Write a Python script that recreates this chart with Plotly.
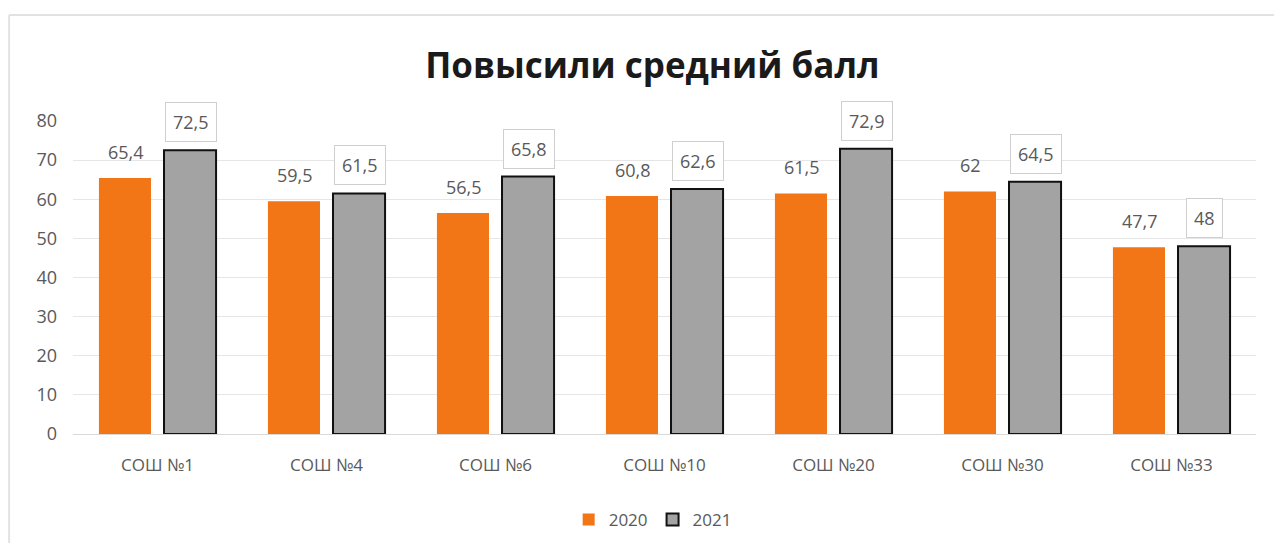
import plotly.graph_objects as go

categories = ["СОШ №1", "СОШ №4", "СОШ №6", "СОШ №10", "СОШ №20", "СОШ №30", "СОШ №33"]
values_2020 = [65.4, 59.5, 56.5, 60.8, 61.5, 62, 47.7]
values_2021 = [72.5, 61.5, 65.8, 62.6, 72.9, 64.5, 48]
series_names = ["2020", "2021"]
y_ticks = [0, 10, 20, 30, 40, 50, 60, 70, 80]


def fmt(v):
    return ("%g" % v).replace(".", ",")


FONT = "Open Sans"
TXT = "#595959"

fig = go.Figure()
fig.add_trace(go.Bar(
    name=series_names[0], x=categories, y=values_2020,
    marker=dict(color="#f27516", line=dict(width=0)),
    cliponaxis=False,
))
fig.add_trace(go.Bar(
    name=series_names[1], x=categories, y=values_2021,
    marker=dict(color="#a3a3a3", line=dict(width=2, color="#111111")),
    cliponaxis=False,
))

for c, v in zip(categories, values_2020):
    fig.add_annotation(
        x=c, y=v, text=fmt(v), showarrow=False, yanchor="bottom",
        xshift=-32, yshift=12,
        font=dict(family=FONT, size=18, color=TXT),
    )

for c, v in zip(categories, values_2021):
    fig.add_annotation(
        x=c, y=v, text=fmt(v), showarrow=False, yanchor="bottom",
        xshift=33, yshift=8,
        font=dict(family=FONT, size=18, color=TXT),
        bgcolor="white", bordercolor="#cfcfcf", borderwidth=1, borderpad=7,
    )

# outer frame (top and left edges)
fig.add_shape(type="line", xref="paper", yref="paper", x0=-0.054, x1=1.02, y0=1.339, y1=1.339,
              line=dict(color="#e2e2e2", width=2), layer="below")
fig.add_shape(type="line", xref="paper", yref="paper", x0=-0.054, x1=-0.054, y0=-0.4, y1=1.339,
              line=dict(color="#e2e2e2", width=2), layer="below")

fig.update_layout(
    width=1266, height=535,
    margin=dict(l=65, r=18, t=113, b=109, autoexpand=False),
    paper_bgcolor="white", plot_bgcolor="white",
    title=dict(text="<b>Повысили средний балл</b>", x=0.509, xanchor="center", y=1 - 58 / 535, yanchor="middle",
               font=dict(family=FONT, size=35, color="#1a1a1a")),
    barmode="group", bargap=0.23, bargroupgap=0.2,
    legend=dict(orientation="h", x=0.49, xanchor="center", y=1 - 512 / 535, yref="container",
                yanchor="middle",
                font=dict(family=FONT, size=17, color=TXT), itemwidth=30),
    xaxis=dict(tickfont=dict(family=FONT, size=17, color=TXT), showline=True,
               linecolor="#d9d9d9", ticks="", ticklabelstandoff=16),
    yaxis=dict(range=[0, 80], tickvals=y_ticks, showgrid=True, gridcolor="#e6e6e6",
               tickfont=dict(family=FONT, size=18, color=TXT), zeroline=False, ticklabelstandoff=15),
    showlegend=True,
)

fig.write_html("out.html")
